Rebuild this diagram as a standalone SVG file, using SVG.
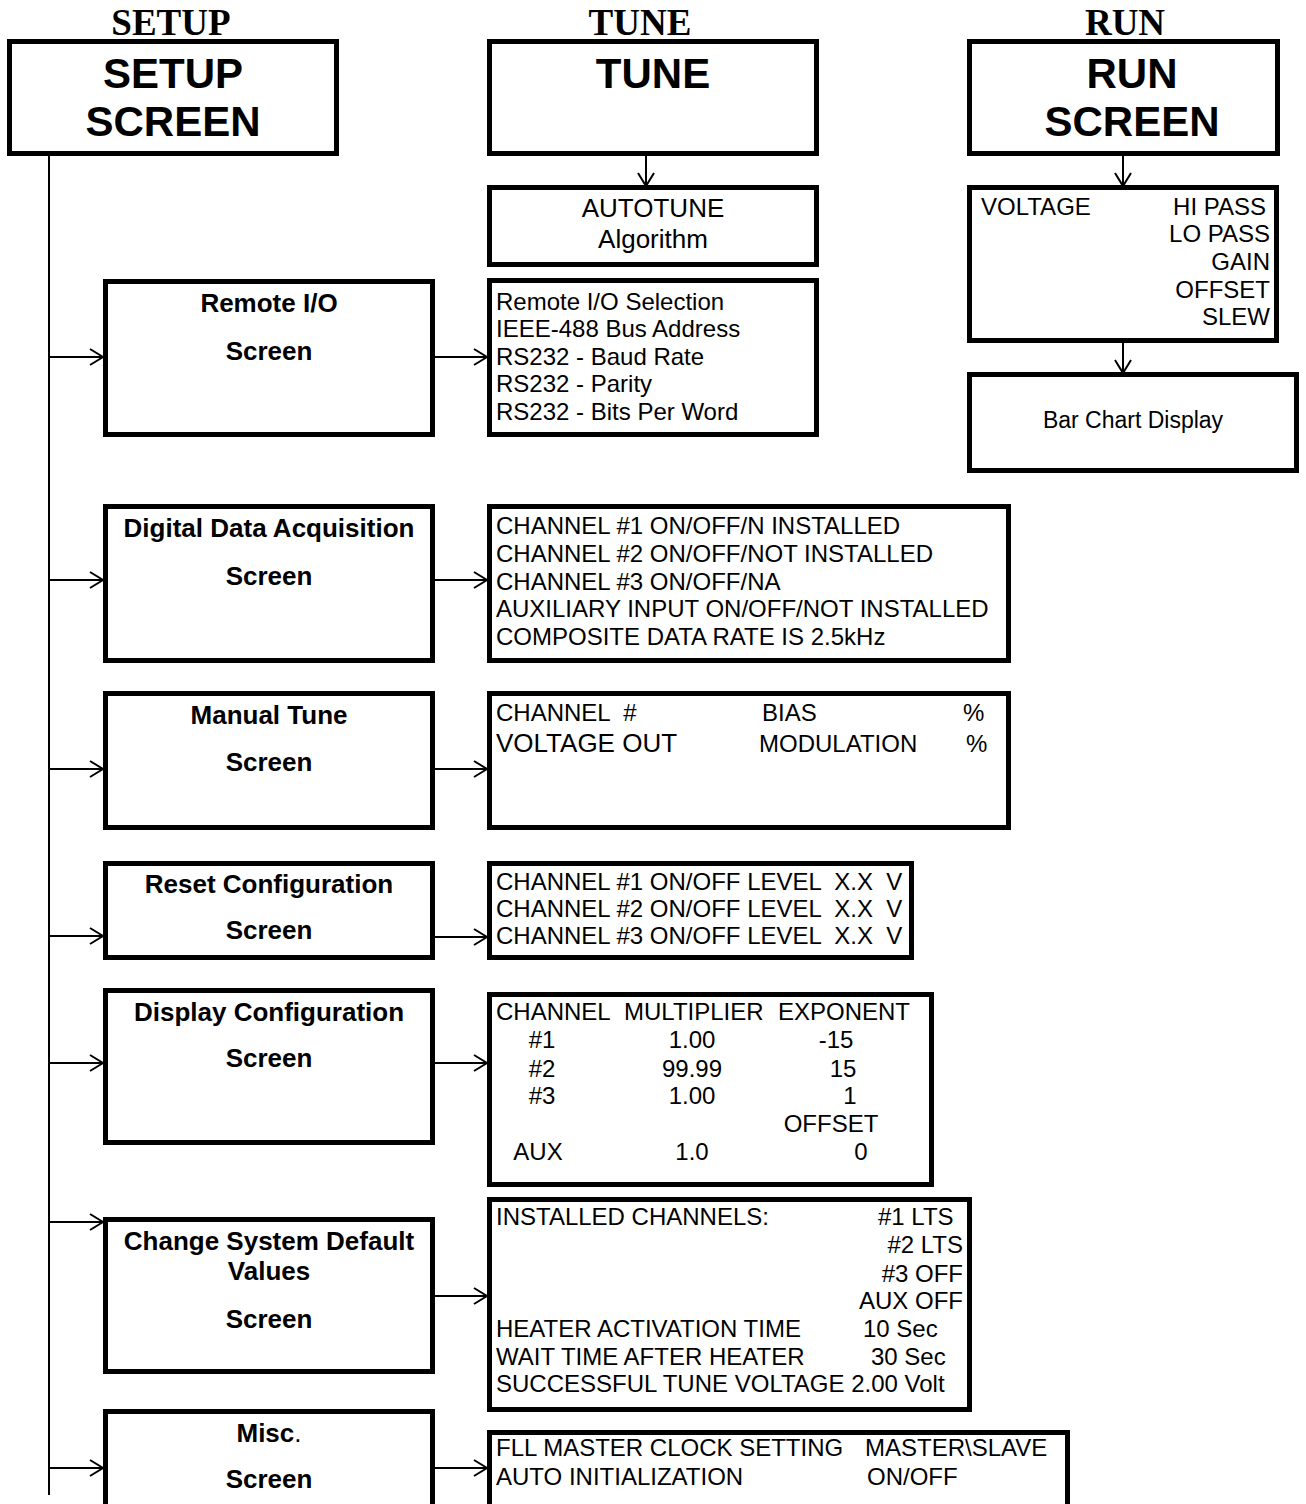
<svg xmlns="http://www.w3.org/2000/svg" width="1306" height="1504" viewBox="0 0 1306 1504">
<style>
.box{fill:#fff;stroke:#000;stroke-width:5}
.ln{fill:none;stroke:#000;stroke-width:2}
.hd{font-family:"Liberation Serif","Times New Roman",serif;font-weight:bold;font-size:37px;text-anchor:middle}
.tt{font-family:"Liberation Sans",Arial,sans-serif;font-weight:bold;font-size:42px;text-anchor:middle}
.lb{font-family:"Liberation Sans",Arial,sans-serif;font-weight:bold;font-size:26px;text-anchor:middle}
.tx{font-family:"Liberation Sans",Arial,sans-serif;font-size:24px;white-space:pre}
.mid{text-anchor:middle}
.end{text-anchor:end}
</style>
<defs>
<marker id="ah" markerWidth="16" markerHeight="18" refX="14" refY="9" orient="auto" markerUnits="userSpaceOnUse">
<path d="M1,1 L14,9 L1,17" fill="none" stroke="#000" stroke-width="2"/>
</marker>
</defs>
<rect width="1306" height="1504" fill="#fff"/>

<g id="headers">
<text class="hd" x="171" y="35">SETUP</text>
<text class="hd" x="640" y="35">TUNE</text>
<text class="hd" x="1125" y="35">RUN</text>
</g>

<g id="connectors">
<line class="ln" x1="49" y1="153" x2="49" y2="1495"/>
<line class="ln" x1="49" y1="357" x2="103" y2="357" marker-end="url(#ah)"/>
<line class="ln" x1="49" y1="580" x2="103" y2="580" marker-end="url(#ah)"/>
<line class="ln" x1="49" y1="769" x2="103" y2="769" marker-end="url(#ah)"/>
<line class="ln" x1="49" y1="936" x2="103" y2="936" marker-end="url(#ah)"/>
<line class="ln" x1="49" y1="1063" x2="103" y2="1063" marker-end="url(#ah)"/>
<line class="ln" x1="49" y1="1222" x2="103" y2="1222" marker-end="url(#ah)"/>
<line class="ln" x1="49" y1="1468" x2="103" y2="1468" marker-end="url(#ah)"/>
<line class="ln" x1="435" y1="357" x2="487" y2="357" marker-end="url(#ah)"/>
<line class="ln" x1="435" y1="580" x2="487" y2="580" marker-end="url(#ah)"/>
<line class="ln" x1="435" y1="769" x2="487" y2="769" marker-end="url(#ah)"/>
<line class="ln" x1="435" y1="937" x2="487" y2="937" marker-end="url(#ah)"/>
<line class="ln" x1="435" y1="1063" x2="487" y2="1063" marker-end="url(#ah)"/>
<line class="ln" x1="435" y1="1296" x2="487" y2="1296" marker-end="url(#ah)"/>
<line class="ln" x1="435" y1="1468" x2="487" y2="1468" marker-end="url(#ah)"/>
<line class="ln" x1="646" y1="156" x2="646" y2="186" marker-end="url(#ah)"/>
<line class="ln" x1="1123" y1="156" x2="1123" y2="186" marker-end="url(#ah)"/>
<line class="ln" x1="1123" y1="343" x2="1123" y2="373" marker-end="url(#ah)"/>
</g>

<g id="setup-screen">
<rect class="box" x="9.5" y="41.5" width="327" height="112"/>
<text class="tt" x="173" y="88">SETUP</text>
<text class="tt" x="173" y="136">SCREEN</text>
</g>

<g id="tune">
<rect class="box" x="489.5" y="41.5" width="327" height="112"/>
<text class="tt" x="653" y="88">TUNE</text>
</g>

<g id="run-screen">
<rect class="box" x="969.5" y="41.5" width="308" height="112"/>
<text class="tt" x="1132" y="88">RUN</text>
<text class="tt" x="1132" y="136">SCREEN</text>
</g>

<g id="autotune">
<rect class="box" x="489.5" y="187.5" width="327" height="77"/>
<text class="tx mid" x="653" y="217" style="font-size:26px">AUTOTUNE</text>
<text class="tx mid" x="653" y="248" style="font-size:26px">Algorithm</text>
</g>

<g id="run-params">
<rect class="box" x="969.5" y="187.5" width="307" height="153"/>
<text class="tx" x="981" y="215">VOLTAGE</text>
<text class="tx end" x="1266" y="215">HI PASS</text>
<text class="tx end" x="1270" y="242">LO PASS</text>
<text class="tx end" x="1270" y="270">GAIN</text>
<text class="tx end" x="1270" y="298">OFFSET</text>
<text class="tx end" x="1270" y="325">SLEW</text>
</g>

<g id="bar-chart">
<rect class="box" x="969.5" y="374.5" width="327" height="96"/>
<text class="tx mid" x="1133" y="428" style="font-size:23px">Bar Chart Display</text>
</g>

<g id="remote-io">
<rect class="box" x="105.5" y="281.5" width="327" height="153"/>
<text class="lb" x="269" y="312">Remote I/O</text>
<text class="lb" x="269" y="360">Screen</text>
</g>

<g id="remote-io-list">
<rect class="box" x="489.5" y="280.5" width="327" height="154"/>
<text class="tx" x="496" y="310">Remote I/O Selection</text>
<text class="tx" x="496" y="337">IEEE-488 Bus Address</text>
<text class="tx" x="496" y="365">RS232 - Baud Rate</text>
<text class="tx" x="496" y="392">RS232 - Parity</text>
<text class="tx" x="496" y="420">RS232 - Bits Per Word</text>
</g>

<g id="digital-data">
<rect class="box" x="105.5" y="506.5" width="327" height="154"/>
<text class="lb" x="269" y="537">Digital Data Acquisition</text>
<text class="lb" x="269" y="585">Screen</text>
</g>

<g id="digital-data-list">
<rect class="box" x="489.5" y="506.5" width="519" height="154"/>
<text class="tx" x="496" y="534">CHANNEL #1 ON/OFF/N INSTALLED</text>
<text class="tx" x="496" y="562">CHANNEL #2 ON/OFF/NOT INSTALLED</text>
<text class="tx" x="496" y="590">CHANNEL #3 ON/OFF/NA</text>
<text class="tx" x="496" y="617">AUXILIARY INPUT ON/OFF/NOT INSTALLED</text>
<text class="tx" x="496" y="645">COMPOSITE DATA RATE IS 2.5kHz</text>
</g>

<g id="manual-tune">
<rect class="box" x="105.5" y="693.5" width="327" height="134"/>
<text class="lb" x="269" y="724">Manual Tune</text>
<text class="lb" x="269" y="771">Screen</text>
</g>

<g id="manual-tune-list">
<rect class="box" x="489.5" y="693.5" width="519" height="134"/>
<text class="tx" x="496" y="721">CHANNEL  #</text>
<text class="tx" x="762" y="721">BIAS</text>
<text class="tx" x="963" y="721">%</text>
<text class="tx" x="496" y="752" style="font-size:26px">VOLTAGE OUT</text>
<text class="tx" x="759" y="752">MODULATION</text>
<text class="tx" x="966" y="752">%</text>
</g>

<g id="reset-config">
<rect class="box" x="105.5" y="863.5" width="327" height="94"/>
<text class="lb" x="269" y="893">Reset Configuration</text>
<text class="lb" x="269" y="939">Screen</text>
</g>

<g id="reset-config-list">
<rect class="box" x="489.5" y="863.5" width="422" height="94"/>
<text class="tx" x="496" y="890">CHANNEL #1 ON/OFF LEVEL  X.X  V</text>
<text class="tx" x="496" y="917">CHANNEL #2 ON/OFF LEVEL  X.X  V</text>
<text class="tx" x="496" y="944">CHANNEL #3 ON/OFF LEVEL  X.X  V</text>
</g>

<g id="display-config">
<rect class="box" x="105.5" y="990.5" width="327" height="152"/>
<text class="lb" x="269" y="1021">Display Configuration</text>
<text class="lb" x="269" y="1067">Screen</text>
</g>

<g id="display-config-list">
<rect class="box" x="489.5" y="994.5" width="442" height="190"/>
<text class="tx" x="496" y="1020">CHANNEL</text>
<text class="tx" x="624" y="1020">MULTIPLIER</text>
<text class="tx" x="778" y="1020">EXPONENT</text>
<text class="tx mid" x="542" y="1048">#1</text>
<text class="tx mid" x="692" y="1048">1.00</text>
<text class="tx mid" x="836" y="1048">-15</text>
<text class="tx mid" x="542" y="1077">#2</text>
<text class="tx mid" x="692" y="1077">99.99</text>
<text class="tx mid" x="843" y="1077">15</text>
<text class="tx mid" x="542" y="1104">#3</text>
<text class="tx mid" x="692" y="1104">1.00</text>
<text class="tx mid" x="850" y="1104">1</text>
<text class="tx mid" x="831" y="1132">OFFSET</text>
<text class="tx mid" x="538" y="1160">AUX</text>
<text class="tx mid" x="692" y="1160">1.0</text>
<text class="tx mid" x="861" y="1160">0</text>
</g>

<g id="change-defaults">
<rect class="box" x="105.5" y="1219.5" width="327" height="152"/>
<text class="lb" x="269" y="1250">Change System Default</text>
<text class="lb" x="269" y="1280">Values</text>
<text class="lb" x="269" y="1328">Screen</text>
</g>

<g id="change-defaults-list">
<rect class="box" x="489.5" y="1199.5" width="480" height="210"/>
<text class="tx" x="496" y="1225">INSTALLED CHANNELS:</text>
<text class="tx" x="878" y="1225">#1 LTS</text>
<text class="tx end" x="963" y="1253">#2 LTS</text>
<text class="tx end" x="963" y="1282">#3 OFF</text>
<text class="tx end" x="963" y="1309">AUX OFF</text>
<text class="tx" x="496" y="1337">HEATER ACTIVATION TIME</text>
<text class="tx" x="863" y="1337">10 Sec</text>
<text class="tx" x="496" y="1365">WAIT TIME AFTER HEATER</text>
<text class="tx" x="871" y="1365">30 Sec</text>
<text class="tx" x="496" y="1392">SUCCESSFUL TUNE VOLTAGE 2.00 Volt</text>
</g>

<g id="misc">
<rect class="box" x="105.5" y="1411.5" width="327" height="110"/>
<text class="lb" x="269" y="1442">Misc<tspan style="font-weight:normal">.</tspan></text>
<text class="lb" x="269" y="1488">Screen</text>
</g>

<g id="misc-list">
<rect class="box" x="489.5" y="1432.5" width="578" height="90"/>
<text class="tx" x="496" y="1456">FLL MASTER CLOCK SETTING</text>
<text class="tx" x="865" y="1456">MASTER\SLAVE</text>
<text class="tx" x="496" y="1485">AUTO INITIALIZATION</text>
<text class="tx" x="867" y="1485">ON/OFF</text>
</g>
</svg>
